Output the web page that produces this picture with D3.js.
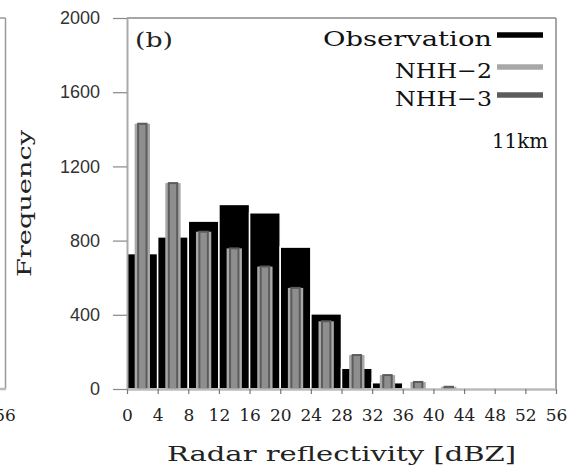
<!DOCTYPE html>
<html>
<head>
<meta charset="utf-8">
<script src="https://cdn.jsdelivr.net/npm/d3@7"></script>
<style>
  body { margin: 0; background: #fff; }
  svg { display: block; }
</style>
</head>
<body>
<div id="chart"></div>
<script>
// bin start of each 4 dBZ class
var binStarts = [0, 4, 8, 12, 16, 20, 24, 28, 32, 36, 40];
var observation = [730, 820, 905, 995, 950, 765, 405, 112, 34, 5, 0];
var nhh2 = [1430, 1110, 848, 758, 660, 545, 365, 183, 75, 38, 12];
var nhh3 = [1430, 1110, 848, 758, 660, 545, 365, 183, 75, 38, 12];
var xTicks = [0, 4, 8, 12, 16, 20, 24, 28, 32, 36, 40, 44, 48, 52, 56];
var yTicks = [0, 400, 800, 1200, 1600, 2000];
var legendNames = ["Observation", "NHH\u22122", "NHH\u22123"];
var legendColors = ["#000", "#a8a8a8", "#5c5c5c"];

var W = 574, H = 466;
var pLeft = 127, pRight = 556, pTop = 18, pBottom = 389;
var serif = "'DejaVu Serif', serif";
var sans = "'Liberation Sans', Arial, sans-serif";

var svg = d3.select("#chart").append("svg")
    .attr("width", W)
    .attr("height", H);

var x = d3.scaleLinear().domain([0, 56]).range([pLeft, pRight]);
var y = d3.scaleLinear().domain([0, 2000]).range([pBottom, pTop]);

// bit of the neighbouring panel (a) that sticks in on the left
svg.append("line").attr("x1", 5.5).attr("x2", 5.5).attr("y1", pTop).attr("y2", pBottom)
    .attr("stroke", "#999").attr("stroke-width", 1.5);
svg.append("line").attr("x1", 0).attr("x2", 5.5).attr("y1", pTop).attr("y2", pTop)
    .attr("stroke", "#999").attr("stroke-width", 1.5);
svg.append("line").attr("x1", 0).attr("x2", 6).attr("y1", pBottom).attr("y2", pBottom)
    .attr("stroke", "#bbb").attr("stroke-width", 2.5);
svg.append("text").attr("x", 5).attr("y", 421)
    .attr("text-anchor", "middle")
    .style("font-family", serif).style("font-size", "17px").attr("fill", "#222")
    .text("56");

// frame top / right
svg.append("line").attr("x1", pLeft).attr("x2", pRight).attr("y1", pTop).attr("y2", pTop)
    .attr("stroke", "#888").attr("stroke-width", 1.5);
svg.append("line").attr("x1", pRight).attr("x2", pRight).attr("y1", pTop).attr("y2", pBottom)
    .attr("stroke", "#888").attr("stroke-width", 1.5);

// observation bars
svg.append("g").selectAll("rect")
    .data(binStarts)
    .enter()
    .append("rect")
    .attr("x", function (d) { return x(d); })
    .attr("width", function (d) { return x(d + 4) - x(d); })
    .attr("y", function (d, i) { return y(observation[i]); })
    .attr("height", function (d, i) { return pBottom - y(observation[i]); })
    .attr("fill", "#000")
    .attr("stroke", "#fff")
    .attr("stroke-width", 1.5);

// NHH-2 bars
svg.append("g").selectAll("rect")
    .data(binStarts)
    .enter()
    .append("rect")
    .attr("x", function (d) { return x(d + 1); })
    .attr("width", function (d) { return x(d + 3) - x(d + 1); })
    .attr("y", function (d, i) { return y(nhh2[i]); })
    .attr("height", function (d, i) { return pBottom - y(nhh2[i]); })
    .attr("fill", legendColors[1]);

// NHH-3 bars (narrower, drawn on top)
svg.append("g").selectAll("rect")
    .data(binStarts)
    .enter()
    .append("rect")
    .attr("x", function (d) { return x(d + 1.45); })
    .attr("width", function (d) { return x(d + 2.55) - x(d + 1.45); })
    .attr("y", function (d, i) { return y(nhh3[i]); })
    .attr("height", function (d, i) { return pBottom - y(nhh3[i]); })
    .attr("fill", "#8e8e8e")
    .attr("stroke", legendColors[2])
    .attr("stroke-width", 2);

// axes
var xAxis = svg.append("g")
    .attr("transform", "translate(0," + pBottom + ")")
    .call(d3.axisBottom(x).tickValues(xTicks).tickSize(5).tickPadding(15).tickSizeOuter(0));
xAxis.select(".domain").attr("stroke", "#bbb").attr("stroke-width", 2.5);
xAxis.selectAll(".tick line").attr("stroke", "#777").attr("stroke-width", 1.2);
xAxis.selectAll("text")
    .style("font-family", serif).style("font-size", "17px").attr("fill", "#222");

var yAxis = svg.append("g")
    .attr("transform", "translate(" + pLeft + ",0)")
    .call(d3.axisLeft(y).tickValues(yTicks).tickFormat(d3.format("d"))
        .tickSize(14).tickPadding(13).tickSizeOuter(0));
yAxis.select(".domain").attr("stroke", "#aaa").attr("stroke-width", 2);
yAxis.selectAll(".tick line").attr("stroke", "#888").attr("stroke-width", 1.2);
yAxis.selectAll("text")
    .style("font-family", sans).style("font-size", "18px").attr("fill", "#333");

// axis titles
svg.append("text")
    .attr("x", (pLeft + pRight) / 2).attr("y", 461)
    .attr("text-anchor", "middle")
    .attr("textLength", 349).attr("lengthAdjust", "spacingAndGlyphs")
    .style("font-family", serif).style("font-size", "21px").attr("fill", "#222")
    .text("Radar reflectivity [dBZ]");

svg.append("text")
    .attr("transform", "translate(31," + (pTop + pBottom) / 2 + ") rotate(-90)")
    .attr("text-anchor", "middle")
    .attr("textLength", 147).attr("lengthAdjust", "spacingAndGlyphs")
    .style("font-family", serif).style("font-size", "19px").attr("fill", "#222")
    .text("Frequency");

// panel label
svg.append("text")
    .attr("x", 135).attr("y", 47)
    .attr("textLength", 38).attr("lengthAdjust", "spacingAndGlyphs")
    .style("font-family", serif).style("font-size", "20px").attr("fill", "#222")
    .text("(b)");

// legend
var legY = [35, 67, 95];
var legLen = [169, 97, 97];
var leg = svg.append("g").selectAll("g")
    .data(legendNames)
    .enter()
    .append("g");
leg.append("text")
    .attr("x", 492)
    .attr("y", function (d, i) { return legY[i] + 11; })
    .attr("text-anchor", "end")
    .attr("textLength", function (d, i) { return legLen[i]; })
    .attr("lengthAdjust", "spacingAndGlyphs")
    .style("font-family", serif).style("font-size", "21px").attr("fill", "#111")
    .text(function (d) { return d; });
leg.append("line")
    .attr("x1", 497).attr("x2", 543)
    .attr("y1", function (d, i) { return legY[i]; })
    .attr("y2", function (d, i) { return legY[i]; })
    .attr("stroke", function (d, i) { return legendColors[i]; })
    .attr("stroke-width", 5.5);

svg.append("text")
    .attr("x", 548).attr("y", 148)
    .attr("text-anchor", "end")
    .attr("textLength", 56).attr("lengthAdjust", "spacingAndGlyphs")
    .style("font-family", serif).style("font-size", "21px").attr("fill", "#111")
    .text("11km");
</script>
</body>
</html>
